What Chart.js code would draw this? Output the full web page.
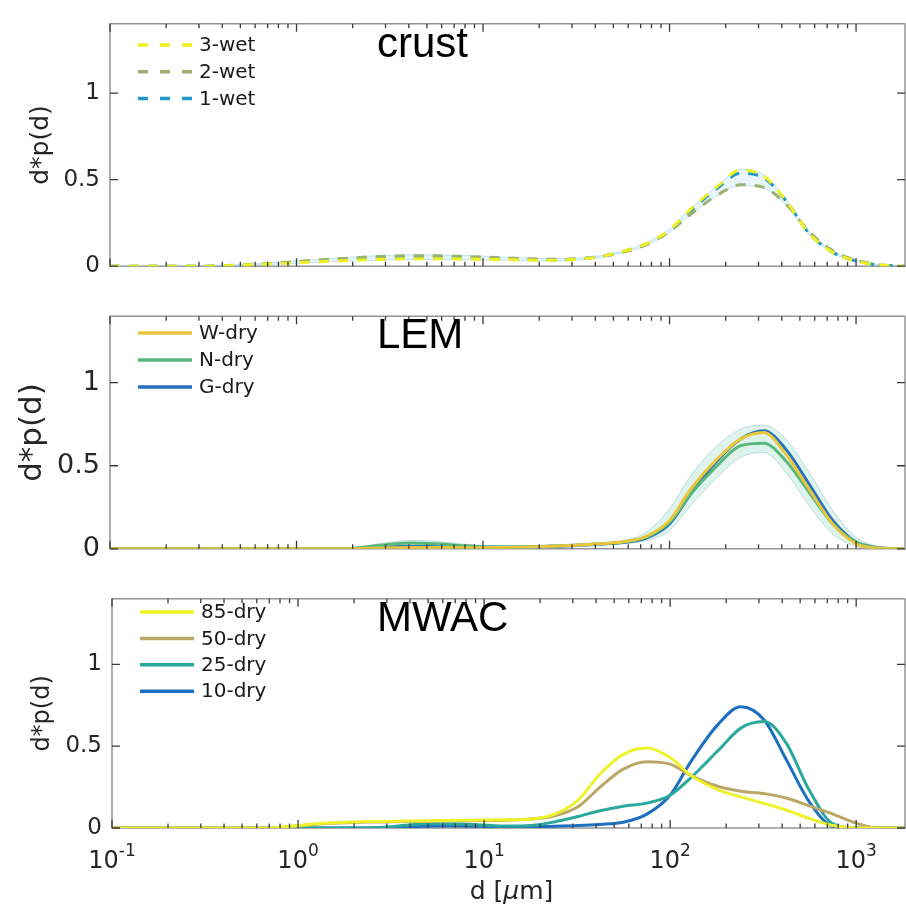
<!doctype html>
<html>
<head>
<title>d*p(d) crust / LEM / MWAC</title>
<script src="https://cdn.jsdelivr.net/npm/chart.js@4.4.1/dist/chart.umd.min.js"></script>
<style>
body { margin: 0; background: #fff; }
.panel { position: absolute; left: 0; width: 906px; }
</style>
</head>
<body>
<div class="panel" style="top:0px"><canvas id="crust" width="906" height="290"></canvas></div>
<div class="panel" style="top:290px"><canvas id="lem" width="906" height="285"></canvas></div>
<div class="panel" style="top:575px"><canvas id="mwac" width="906" height="331"></canvas></div>
<script>
// particle diameter d [um], log spaced
var diameters = [0.1,0.13,0.18,0.24,0.32,0.42,0.56,0.75,1,1.3,1.8,2.4,3.2,4.2,5.6,7.5,10,13,18,24,32,42,56,75,100,130,180,240,320,420,560,750,1000,1300,1800];

// crust (wet samples)
var crustWet3 = [0,0,0,0,0,0.003,0.008,0.014,0.02,0.026,0.032,0.037,0.041,0.043,0.043,0.042,0.04,0.038,0.035,0.034,0.04,0.055,0.085,0.13,0.21,0.33,0.46,0.555,0.52,0.38,0.19,0.08,0.03,0.008,0];
var crustWet2 = [0,0,0,0,0,0.004,0.01,0.018,0.027,0.036,0.045,0.053,0.058,0.061,0.06,0.057,0.053,0.048,0.043,0.04,0.043,0.055,0.08,0.125,0.2,0.3,0.41,0.47,0.455,0.36,0.2,0.09,0.035,0.01,0];
var crustWet1 = [0,0,0,0,0,0.003,0.009,0.016,0.024,0.031,0.039,0.045,0.049,0.051,0.051,0.049,0.046,0.043,0.039,0.037,0.041,0.055,0.083,0.128,0.205,0.32,0.45,0.537,0.51,0.38,0.19,0.08,0.03,0.008,0];
var crustBandHigh = [0,0,0,0,0,0.005,0.012,0.021,0.03,0.039,0.049,0.058,0.063,0.066,0.065,0.062,0.058,0.052,0.047,0.044,0.047,0.06,0.088,0.135,0.214,0.332,0.463,0.56,0.528,0.39,0.2,0.088,0.037,0.011,0.001];
var crustBandLow = [0,0,0,0,0,0.001,0.006,0.011,0.017,0.023,0.029,0.033,0.037,0.039,0.039,0.038,0.036,0.034,0.031,0.03,0.035,0.05,0.078,0.12,0.196,0.298,0.405,0.465,0.45,0.354,0.185,0.074,0.027,0.006,0];

// LEM (dry samples)
var lemW = [0,0,0,0,0,0,0,0,0,0,0,0.003,0.006,0.008,0.008,0.007,0.007,0.008,0.011,0.016,0.022,0.03,0.042,0.075,0.17,0.36,0.54,0.66,0.7,0.57,0.36,0.15,0.03,0.005,0];
var lemN = [0,0,0,0,0,0,0,0,0,0,0,0.012,0.028,0.035,0.03,0.02,0.012,0.011,0.013,0.017,0.023,0.03,0.04,0.07,0.16,0.33,0.5,0.62,0.635,0.53,0.34,0.15,0.04,0.008,0];
var lemG = [0,0,0,0,0,0,0,0,0,0,0,0.005,0.012,0.015,0.013,0.01,0.009,0.009,0.011,0.015,0.02,0.028,0.038,0.065,0.15,0.33,0.53,0.66,0.71,0.6,0.39,0.17,0.04,0.008,0];
var lemBandHigh = [0,0,0,0,0,0,0,0,0,0,0,0.02,0.04,0.05,0.045,0.03,0.02,0.017,0.018,0.022,0.028,0.036,0.05,0.1,0.24,0.44,0.62,0.72,0.745,0.66,0.46,0.23,0.07,0.015,0];
var lemBandLow = [0,0,0,0,0,0,0,0,0,0,0,0,0.008,0.012,0.01,0.006,0.004,0.004,0.006,0.01,0.015,0.022,0.03,0.05,0.11,0.26,0.43,0.55,0.58,0.46,0.26,0.09,0.015,0,0];

// MWAC (dry samples by height)
var mwac85 = [0,0,0,0,0,0,0,0.002,0.015,0.028,0.035,0.039,0.041,0.043,0.045,0.047,0.049,0.05,0.055,0.085,0.17,0.33,0.45,0.488,0.43,0.32,0.235,0.19,0.15,0.11,0.058,0.015,0,0,0];
var mwac50 = [0,0,0,0,0,0,0,0.002,0.012,0.025,0.032,0.036,0.038,0.04,0.042,0.044,0.046,0.048,0.055,0.075,0.13,0.25,0.36,0.405,0.39,0.32,0.255,0.225,0.21,0.183,0.135,0.085,0.03,0,0];
var mwac25 = [0,0,0,0,0,0,0,0,0,0,0,0,0.008,0.022,0.026,0.024,0.018,0.012,0.016,0.038,0.07,0.105,0.133,0.152,0.2,0.31,0.47,0.61,0.65,0.52,0.23,0.025,0,0,0];
var mwac10 = [0,0,0,0,0,0,0,0,0,0,0,0,0,0.008,0.012,0.012,0.01,0.009,0.009,0.011,0.015,0.022,0.035,0.085,0.2,0.41,0.63,0.74,0.66,0.42,0.16,0.01,0,0,0];

var yTicks = [0, 0.5, 1];
var yTickLabels = ['0', '0.5', '1'];
var xDecades = [0.1, 1, 10, 100, 1000];
var xDecadeExponents = ['-1', '0', '1', '2', '3'];
var xMin = 0.1, xMax = 1830;

var xTickMarks = [];
xDecades.forEach(function (d) {
    for (var k = 1; k <= 9; k++) {
        if (k * d <= xMax) xTickMarks.push({ v: k * d, major: k === 1 });
    }
});

function line(label, data, color, dash) {
    return { label: label, data: data, borderColor: color, borderWidth: 3, borderDash: dash || [],
        pointRadius: 0, fill: false };
}
function band(data, fill, color, edge) {
    return { label: '', data: data, borderColor: edge, backgroundColor: color, borderWidth: 1,
        pointRadius: 0, fill: fill };
}

// box + inward ticks, MATLAB style
var frame = {
    id: 'frame',
    beforeDatasetsDraw: function (chart) {
        var a = chart.chartArea, ctx = chart.ctx;
        ctx.save();
        ctx.strokeStyle = '#858585';
        ctx.lineWidth = 1.3;
        ctx.strokeRect(a.left, a.top, a.right - a.left, a.bottom - a.top);
        ctx.restore();
    },
    afterDatasetsDraw: function (chart) {
        var a = chart.chartArea, ctx = chart.ctx, xs = chart.scales.x, ys = chart.scales.y;
        ctx.save();
        ctx.setLineDash([]);
        ctx.strokeStyle = '#3a3a3a';
        ctx.lineWidth = 1.3;
        ctx.beginPath();
        for (var i = 0; i < xTickMarks.length; i++) {
            var t = xTickMarks[i];
            var px = xs.getPixelForValue(t.v);
            var len = t.major ? 8 : 4.5;
            ctx.moveTo(px, a.bottom);
            ctx.lineTo(px, a.bottom - len);
            ctx.moveTo(px, a.top);
            ctx.lineTo(px, a.top + len);
        }
        for (var j = 0; j < yTicks.length; j++) {
            var py = ys.getPixelForValue(yTicks[j]);
            ctx.moveTo(a.left, py);
            ctx.lineTo(a.left + 8, py);
            ctx.moveTo(a.right, py);
            ctx.lineTo(a.right - 8, py);
        }
        ctx.stroke();
        ctx.restore();
    }
};

// panel name, legend, and (bottom panel) 10^n tick labels + axis label
var panelText = {
    id: 'panelText',
    afterDraw: function (chart, args, opts) {
        var a = chart.chartArea, ctx = chart.ctx;
        ctx.save();
        ctx.fillStyle = '#000';
        ctx.font = '42px "Liberation Sans", Arial, sans-serif';
        ctx.textBaseline = 'alphabetic';
        ctx.fillText(opts.title, 377, opts.titleY);

        ctx.font = '20px "DejaVu Sans", sans-serif';
        ctx.textBaseline = 'middle';
        var y = opts.legendY;
        chart.data.datasets.forEach(function (ds) {
            if (!ds.label) return;
            ctx.strokeStyle = ds.borderColor;
            ctx.lineWidth = 3.5;
            ctx.setLineDash(ds.borderDash.length ? [10, 12] : []);
            ctx.beginPath();
            ctx.moveTo(a.left + 28, y);
            ctx.lineTo(a.left + 82, y);
            ctx.stroke();
            ctx.setLineDash([]);
            ctx.fillStyle = '#1a1a1a';
            ctx.fillText(ds.label, a.left + 89, y + 1);
            y += opts.legendStep;
        });

        if (opts.xLabels) {
            var xs = chart.scales.x;
            ctx.fillStyle = '#262626';
            ctx.textBaseline = 'alphabetic';
            xDecades.forEach(function (v, i) {
                ctx.font = '24px "DejaVu Sans", sans-serif';
                var wb = ctx.measureText('10').width;
                ctx.font = '17px "DejaVu Sans", sans-serif';
                var we = ctx.measureText(xDecadeExponents[i]).width;
                var x0 = xs.getPixelForValue(v) - (wb + we) / 2;
                ctx.font = '24px "DejaVu Sans", sans-serif';
                ctx.fillText('10', x0, a.bottom + 40);
                ctx.font = '17px "DejaVu Sans", sans-serif';
                ctx.fillText(xDecadeExponents[i], x0 + wb, a.bottom + 28);
            });
            // d [mu m] with italic mu
            var parts = [['d [', '25px "DejaVu Sans", sans-serif'], ['\u03BC', 'italic 25px "DejaVu Sans", sans-serif'], ['m]', '25px "DejaVu Sans", sans-serif']];
            var total = 0;
            parts.forEach(function (pt) { ctx.font = pt[1]; pt.push(ctx.measureText(pt[0]).width); total += pt[2]; });
            var tx = (a.left + a.right) / 2 + 3 - total / 2;
            parts.forEach(function (pt) { ctx.font = pt[1]; ctx.fillText(pt[0], tx, a.bottom + 71); tx += pt[2]; });
        }
        ctx.restore();
    }
};

function makePanel(id, datasets, p) {
    var ctx = document.getElementById(id).getContext('2d');
    return new Chart(ctx, {
        type: 'line',
        data: { labels: diameters, datasets: datasets },
        plugins: [frame, panelText],
        options: {
            responsive: false,
            animation: false,
            layout: { padding: { top: p.top, bottom: p.bottom, left: 0, right: 1 } },
            elements: { line: { cubicInterpolationMode: 'monotone' } },
            plugins: {
                legend: { display: false },
                tooltip: { enabled: false },
                panelText: { title: p.title, titleY: p.titleY, legendY: p.legendY, legendStep: p.legendStep, xLabels: p.showX }
            },
            scales: {
                x: {
                    type: 'logarithmic',
                    min: xMin,
                    max: xMax,
                    display: p.showX,
                    grid: { display: false, drawTicks: false },
                    border: { display: false },
                    ticks: { display: false },
                    afterFit: function (scale) { if (p.showX) scale.height = 78; }
                },
                y: {
                    min: 0,
                    max: 1.4,
                    grid: { display: false, drawTicks: false },
                    border: { display: false },
                    afterBuildTicks: function (scale) {
                        scale.ticks = yTicks.map(function (v) { return { value: v }; });
                    },
                    afterFit: function (scale) { scale.width = p.left; },
                    ticks: {
                        padding: 10,
                        color: '#262626',
                        font: { family: 'DejaVu Sans', size: p.tickSize },
                        callback: function (v) { return yTickLabels[yTicks.indexOf(v)]; }
                    },
                    title: {
                        display: true,
                        text: 'd*p(d)',
                        color: '#262626',
                        font: { family: 'DejaVu Sans', size: p.titleSize },
                        padding: { top: p.titlePad, bottom: 0 }
                    }
                }
            }
        }
    });
}

window.onload = function () {
    makePanel('crust', [
        line('3-wet', crustWet3, '#eef020', [10, 9]),
        line('2-wet', crustWet2, '#9cb070', [10, 9]),
        line('1-wet', crustWet1, '#1f9ac9', [10, 9]),
        band(crustBandHigh, '+1', 'rgba(150,210,232,0.22)', 'rgba(150,210,232,0.55)'),
        band(crustBandLow, false, 'rgba(150,210,232,0.22)', 'rgba(150,210,232,0.55)')
    ], { top: 12, bottom: 15, left: 110, showX: false, tickSize: 23, titleSize: 25, titlePad: 26,
         title: 'crust', titleY: 57, legendY: 45, legendStep: 26.7 });

    makePanel('lem', [
        line('W-dry', lemW, '#eac63a'),
        line('N-dry', lemN, '#5ab87c'),
        line('G-dry', lemG, '#2471c0'),
        band(lemBandHigh, '+1', 'rgba(150,215,195,0.3)', 'rgba(150,200,215,0.6)'),
        band(lemBandLow, false, 'rgba(150,215,195,0.3)', 'rgba(150,200,215,0.6)')
    ], { top: 8, bottom: 16, left: 110, showX: false, tickSize: 27, titleSize: 31, titlePad: 14,
         title: 'LEM', titleY: 58, legendY: 43, legendStep: 27 });

    makePanel('mwac', [
        line('85-dry', mwac85, '#eef22a'),
        line('50-dry', mwac50, '#bba766'),
        line('25-dry', mwac25, '#2ba89c'),
        line('10-dry', mwac10, '#1d6fc0')
    ], { top: 2, bottom: 0, left: 112, showX: true, tickSize: 23, titleSize: 24, titlePad: 28,
         title: 'MWAC', titleY: 56, legendY: 37, legendStep: 26.4 });
};
</script>
</body>
</html>
